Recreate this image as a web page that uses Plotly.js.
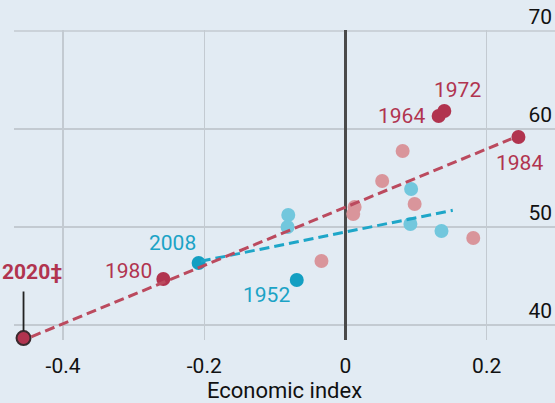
<!DOCTYPE html>
<html>
<head>
<meta charset="utf-8">
<script src="https://cdn.plot.ly/plotly-3.0.1.min.js"></script>
<style>html,body{margin:0;padding:0;background:#e2ebf3;}#chart{width:555px;height:403px;}</style>
</head>
<body>
<div id="chart"></div>
<script>
// Highlighted red years (labelled)
const hiRedYears = ['1964', '1972', '1980', '1984', '2020‡'];
const hiRedX = [0.132, 0.140, -0.258, 0.245, -0.456];
const hiRedY = [61.33, 61.84, 44.69, 59.18, 38.67];
// Other red points
const loRedX = [-0.034, 0.013, 0.011, 0.052, 0.081, 0.098, 0.181];
const loRedY = [46.53, 52.04, 51.33, 54.69, 57.76, 52.35, 48.88];
// Highlighted blue years (labelled)
const hiBlueYears = ['2008', '1952'];
const hiBlueX = [-0.208, -0.069];
const hiBlueY = [46.33, 44.59];
// Other blue points
const loBlueX = [-0.081, -0.082, 0.093, 0.092, 0.136];
const loBlueY = [51.22, 50.0, 53.88, 50.31, 49.59];
// Trend lines
const redFitX = [-0.445, 0.235];
const redFitY = [38.8, 59.0];
const blueFitX = [-0.205, 0.152];
const blueFitY = [46.5, 51.7];
// Ticks
const xTickVals = [-0.4, -0.2, 0, 0.2];
const xTickText = ['-0.4', '-0.2', '0', '0.2'];
const yTickVals = [40, 50, 60, 70];
const xTitle = 'Economic index';

const RED = '#b1344f';
const RED_LIGHT = '#d9959b';
const BLUE = '#139fc2';
const BLUE_LIGHT = '#72c7dd';
const GRID = '#c3cad1';
const FONT = 'Roboto, sans-serif';

const traces = [
  {x: loRedX, y: loRedY, mode: 'markers', type: 'scatter', cliponaxis: false,
   marker: {size: 14, color: RED_LIGHT}, hoverinfo: 'none'},
  {x: loBlueX, y: loBlueY, mode: 'markers', type: 'scatter', cliponaxis: false,
   marker: {size: 14, color: BLUE_LIGHT}, hoverinfo: 'none'},
  {x: hiBlueX, y: hiBlueY, mode: 'markers', type: 'scatter', cliponaxis: false,
   marker: {size: 14, color: BLUE}, hoverinfo: 'none'},
  {x: hiRedX, y: hiRedY, mode: 'markers', type: 'scatter', cliponaxis: false,
   marker: {size: 14, color: RED,
     line: {color: hiRedYears.map(t => t.startsWith('2020') ? '#3a2a2e' : RED), width: hiRedYears.map(t => t.startsWith('2020') ? 2 : 0)}},
   hoverinfo: 'none'},
  {x: blueFitX, y: blueFitY, mode: 'lines', type: 'scatter', cliponaxis: false,
   line: {color: '#1ea6c8', width: 3, dash: '10px,5px'}, hoverinfo: 'none'},
  {x: redFitX, y: redFitY, mode: 'lines', type: 'scatter', cliponaxis: false,
   line: {color: '#bb4a5e', width: 3, dash: '10px,5px'}, hoverinfo: 'none'}
];

// label offsets (style only, in pixels)
const redOffsets = {
  '1964': [-37, 0], '1972': [13, 21], '1980': [-35, 8], '1984': [1, -26], '2020‡': [8, 66]
};
const blueOffsets = {'2008': [-26, 20], '1952': [-30, -15]};

const annotations = [];
hiRedYears.forEach((yr, i) => {
  const o = redOffsets[yr];
  if (yr.startsWith('2020')) {
    // leader line
    annotations.push({x: hiRedX[i], y: hiRedY[i], xref: 'x', yref: 'y', text: '',
      showarrow: true, arrowhead: 0, arrowwidth: 1.8, arrowcolor: '#222',
      ax: 0, ay: -48, standoff: 7});
    annotations.push({x: hiRedX[i], y: hiRedY[i], xref: 'x', yref: 'y', text: yr,
      showarrow: false, xshift: o[0], yshift: o[1],
      font: {family: FONT, size: 21, color: RED, weight: 'bold'}});
  } else {
    annotations.push({x: hiRedX[i], y: hiRedY[i], xref: 'x', yref: 'y', text: yr,
      showarrow: false, xshift: o[0], yshift: o[1],
      font: {family: FONT, size: 21, color: RED}});
  }
});
hiBlueYears.forEach((yr, i) => {
  const o = blueOffsets[yr];
  annotations.push({x: hiBlueX[i], y: hiBlueY[i], xref: 'x', yref: 'y', text: yr,
    showarrow: false, xshift: o[0], yshift: o[1],
    font: {family: FONT, size: 21, color: '#1ba3c6'}});
});

// top gridline (at the edge of the plot, where Plotly omits it)
const topTick = Math.max(...yTickVals);
const shapes = [{type: 'line', xref: 'paper', yref: 'y', x0: 0, x1: 1, y0: topTick, y1: topTick,
  line: {color: GRID, width: 1.5}, layer: 'below'}];

const layout = {
  width: 555, height: 403,
  margin: {l: 14, r: 0, t: 30, b: 63, pad: 0},
  paper_bgcolor: '#e2ebf3', plot_bgcolor: '#e2ebf3',
  showlegend: false,
  xaxis: {
    range: [-0.4695, 0.2968], tickvals: xTickVals, ticktext: xTickText,
    showgrid: true, gridcolor: GRID, gridwidth: 1.5,
    zeroline: true, zerolinecolor: '#4a4a4a', zerolinewidth: 2.5,
    showline: false, ticks: '', ticklabelstandoff: 11,
    tickfont: {family: FONT, size: 21, color: '#111'},
    title: {text: xTitle, standoff: 6, font: {family: FONT, size: 22, color: '#111'}},
    fixedrange: true
  },
  yaxis: {
    range: [38.47, 70.1], tickvals: yTickVals, side: 'right',
    ticklabelposition: 'inside top', ticklabeloverflow: 'allow',
    showgrid: true, gridcolor: GRID, gridwidth: 1.5,
    zeroline: false, showline: false, ticks: '',
    tickfont: {family: FONT, size: 21, color: '#111'},
    fixedrange: true
  },
  shapes: shapes,
  annotations: annotations,
  font: {family: FONT}
};

Plotly.newPlot('chart', traces, layout, {displayModeBar: false, staticPlot: true});
</script>
</body>
</html>
